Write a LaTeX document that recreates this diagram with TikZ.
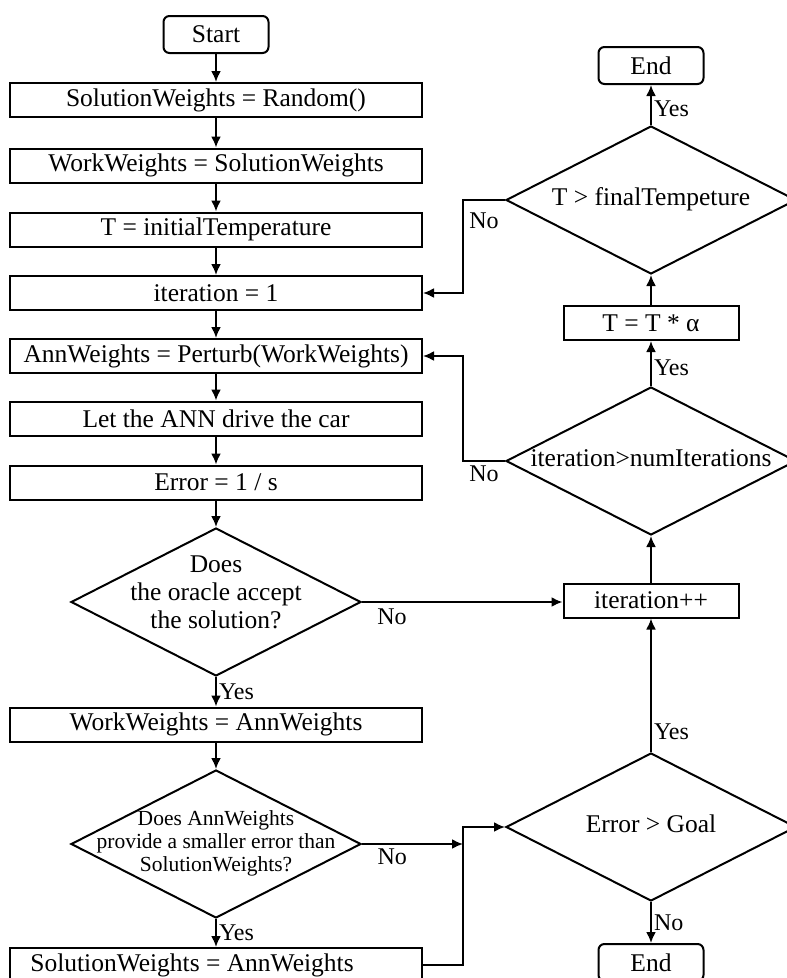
\documentclass[tikz,border=0pt]{standalone}
\usepackage{fontspec}
\setmainfont{Liberation Serif}
\usetikzlibrary{shapes.geometric,arrows.meta}
\newcommand{\dtxt}[1]{\makebox[0pt]{\begin{tabular}{@{}c@{}}#1\end{tabular}}}

\begin{document}
\begin{tikzpicture}[x=1pt, y=-1pt, line width=2pt,
		font=\fontsize{25.5}{28.3}\selectfont,
		proc/.style={draw, rectangle, inner sep=0pt, minimum height=34pt},
		wide/.style={proc, minimum width=412pt},
		narrow/.style={proc, minimum width=175pt},
		term/.style={draw, rounded corners=6pt, inner sep=0pt, minimum width=105pt, minimum height=37pt},
		decision/.style={draw, diamond, inner sep=0pt, minimum width=290pt, minimum height=148pt},
		arr/.style={-{Latex[length=11pt,width=10pt]}},
		lbl/.style={inner sep=2pt, font=\fontsize{24}{26}\selectfont}]
		\useasboundingbox (0,0) rectangle (787,978);
		\coordinate (rail) at (463,0);
		\node[term] (start) at (216,34.5) {Start};
		\node[wide] (sw) at (216,100) {SolutionWeights = Random()};
		\node[wide] (ww) at (216,165.5) {WorkWeights = SolutionWeights};
		\node[wide] (temp) at (216,229.5) {T = initialTemperature};
		\node[wide] (it1) at (216,293) {iteration = 1};
		\node[wide] (perturb) at (216,356) {AnnWeights = Perturb(WorkWeights)};
		\node[wide] (drive) at (216,418.5) {Let the ANN drive the car};
		\node[wide] (err) at (216,482.5) {Error = 1 / s};
		\node[decision] (oracle) at (216,602)
		      {\raisebox{7pt}[\height][\depth]{\dtxt{Does\\the oracle accept\\the solution?}}};
		\node[wide] (ww2) at (216,724.5) {WorkWeights = AnnWeights};
		\node[decision, font=\fontsize{21.5}{23.3}\selectfont] (smaller) at (216,844)
		      {\dtxt{Does AnnWeights\\provide a smaller error than\\SolutionWeights?}};
		\node[wide] (sw2) at (216,965) {\hspace*{-48pt}SolutionWeights = AnnWeights};
		\node[term] (end1) at (651,65.5) {End};
		\node[decision] (tfinal) at (651,200) {\dtxt{T > finalTempeture}};
		\node[narrow] (talpha) at (651,323) {T = T * α};
		\node[decision] (numit) at (651,461) {\dtxt{iteration>numIterations}};
		\node[narrow] (itpp) at (651,600.5) {iteration++};
		\node[decision] (goal) at (651,827) {\dtxt{Error > Goal}};
		\node[term] (end2) at (651,962.5) {End};
		\coordinate (jn) at (463,844);
		\foreach \a/\b in {start/sw, sw/ww, ww/temp, temp/it1, it1/perturb, perturb/drive,
		                   drive/err, err/oracle, ww2/smaller, itpp/numit, talpha/tfinal}
		      \draw[arr] (\a) -- (\b);
		\draw[arr] (oracle) -- node[lbl, right]{Yes} (ww2);
		\draw[arr] (smaller) -- node[lbl, right]{Yes} (sw2);
		\draw[arr] (tfinal) -- node[lbl, right, pos=0.4]{Yes} (end1);
		\draw[arr] (numit) -- node[lbl, right, pos=0.4]{Yes} (talpha);
		\draw[arr] (goal) -- node[lbl, right, pos=0.15]{Yes} (itpp);
		\draw[arr] (goal) -- node[lbl, right]{No} (end2);
		\draw[arr] (oracle.east) -- node[lbl, below, pos=0.15, yshift=-4pt]{No} (oracle.east -| itpp.west);
		\draw[arr] (smaller.east) -- node[lbl, below, pos=0.3, yshift=-2pt]{No} (smaller.east -| jn);
		\draw[arr] (sw2.east) -| (jn) |- (goal.west);
		\draw[arr] (numit.west) -- node[lbl, below, yshift=-2pt]{No} (numit.west -| rail) |- (perturb.east);
		\draw[arr] (tfinal.west) -- node[lbl, below, yshift=-10pt]{No} (tfinal.west -| rail) |- (it1.east);
\end{tikzpicture}
\end{document}
